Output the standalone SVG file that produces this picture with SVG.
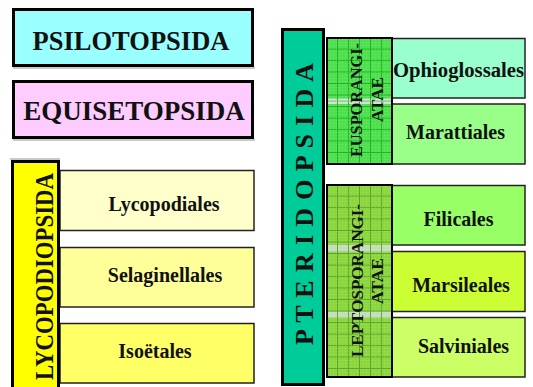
<svg xmlns="http://www.w3.org/2000/svg" width="533" height="387" viewBox="0 0 533 387">
<defs>
<pattern id="gridE" x="327" y="38" width="11" height="11.5" patternUnits="userSpaceOnUse">
<path d="M10.5 0V11.5M0 11H11" stroke="#1fb51f" stroke-width="1" fill="none"/>
</pattern>
<pattern id="gridL" x="327" y="185" width="11" height="11.5" patternUnits="userSpaceOnUse">
<path d="M10.5 0V11.5M0 11H11" stroke="#58a82c" stroke-width="1" fill="none"/>
</pattern>
<pattern id="dots" width="3" height="3" patternUnits="userSpaceOnUse">
<rect width="1" height="1" fill="#ffffff" fill-opacity="0.18"/>
</pattern>
</defs>
<style>
text{font-family:'Liberation Serif','DejaVu Serif',serif;font-weight:700;fill:#111;}
.lbl{font-size:20px;text-anchor:middle;}
.sub{font-size:16px;text-anchor:middle;}
.thick{stroke:#000;stroke-width:3;}
.thin{stroke:#222;stroke-width:1.5;}
.shadow{fill:#c8c8c8;}
</style>
<rect width="533" height="387" fill="#ffffff"/>

<g id="psilotopsida">
<rect class="shadow" x="13" y="67" width="242" height="2"/>
<rect class="thick" x="13.5" y="9.5" width="239" height="56" fill="#99FFFF"/>
<text x="131" y="50" font-size="26.5" text-anchor="middle" font-family="Liberation Serif, serif">PSILOTOPSIDA</text>
</g>

<g id="equisetopsida">
<rect class="shadow" x="13" y="139" width="242" height="2"/>
<rect class="thick" x="13.5" y="81.5" width="239" height="56" fill="#FFCCFF"/>
<text x="134" y="120" font-size="27" text-anchor="middle" font-family="Liberation Serif, serif">EQUISETOPSIDA</text>
</g>

<g id="lycopodiales">
<rect class="thin" x="60" y="170.5" width="194" height="60" fill="#FFFFCC"/>
<text class="lbl" x="164" y="211" font-family="Liberation Serif, serif">Lycopodiales</text>
</g>
<g id="selaginellales">
<rect class="thin" x="60" y="247.5" width="194" height="59.5" fill="#FFFF99"/>
<text class="lbl" x="165" y="282" font-family="Liberation Serif, serif">Selaginellales</text>
</g>
<g id="isoetales">
<rect class="thin" x="60" y="323.5" width="194" height="59.5" fill="#FFFF66"/>
<text class="lbl" x="155" y="358" font-family="Liberation Serif, serif">Isoëtales</text>
</g>

<g id="lycopodiopsida">
<rect class="shadow" x="10" y="158" width="50" height="2"/>
<rect class="thick" x="12.5" y="161.5" width="46" height="230" fill="#FFFF00"/>
<text transform="translate(53,276.5) rotate(-90)" font-size="26" text-anchor="middle" textLength="207" lengthAdjust="spacingAndGlyphs" font-family="Liberation Serif, serif">LYCOPODIOPSIDA</text>
</g>

<g id="ophioglossales">
<rect class="thin" x="340" y="38.5" width="185" height="59.5" fill="#99FFCC"/>
<text class="lbl" x="458.5" y="77" textLength="131" lengthAdjust="spacingAndGlyphs" font-family="Liberation Serif, serif">Ophioglossales</text>
</g>
<g id="marattiales">
<rect class="thin" x="340" y="104" width="185" height="60" fill="#99FF88"/>
<text class="lbl" x="455.5" y="139" font-family="Liberation Serif, serif">Marattiales</text>
</g>
<g id="filicales">
<rect class="thin" x="340" y="185.5" width="185" height="59.5" fill="#99FF66"/>
<text class="lbl" x="458.5" y="226" font-family="Liberation Serif, serif">Filicales</text>
</g>
<g id="marsileales">
<rect class="thin" x="340" y="251.5" width="185" height="60" fill="#CCFF33"/>
<text class="lbl" x="461" y="292" font-family="Liberation Serif, serif">Marsileales</text>
</g>
<g id="salviniales">
<rect class="thin" x="340" y="317.5" width="185" height="59.5" fill="#CCFF66"/>
<text class="lbl" x="463.5" y="353" font-family="Liberation Serif, serif">Salviniales</text>
</g>

<g id="eusporangiatae">
<rect x="327" y="38" width="65" height="126" fill="#4EE04E"/>
<rect x="327" y="98.5" width="65" height="5.5" fill="#c9e6c9"/>
<rect x="327" y="38" width="65" height="126" fill="url(#gridE)"/>
<rect x="327" y="38" width="65" height="126" fill="url(#dots)"/>
<rect x="327" y="100.5" width="65" height="1.2" fill="#8fbf8f"/>
<rect x="327" y="38" width="65" height="126" fill="none" stroke="#000" stroke-width="2"/>
<text class="sub" transform="translate(362,100) rotate(-90)" textLength="114" lengthAdjust="spacingAndGlyphs" font-family="Liberation Serif, serif">EUSPORANGI-</text>
<text class="sub" transform="translate(383,99.5) rotate(-90)" textLength="45" lengthAdjust="spacingAndGlyphs" font-family="Liberation Serif, serif">ATAE</text>
</g>

<g id="leptosporangiatae">
<rect x="327" y="185" width="65" height="192" fill="#8ED63E"/>
<rect x="327" y="245" width="65" height="6.5" fill="#c6dcc0"/>
<rect x="327" y="311.5" width="65" height="6" fill="#c6dcc0"/>
<rect x="327" y="185" width="65" height="192" fill="url(#gridL)"/>
<rect x="327" y="185" width="65" height="192" fill="url(#dots)"/>
<rect x="327" y="185" width="65" height="192" fill="none" stroke="#000" stroke-width="2"/>
<text class="sub" transform="translate(363,280.5) rotate(-90)" textLength="153" lengthAdjust="spacingAndGlyphs" font-family="Liberation Serif, serif">LEPTOSPORANGI-</text>
<text class="sub" transform="translate(383,281) rotate(-90)" textLength="46" lengthAdjust="spacingAndGlyphs" font-family="Liberation Serif, serif">ATAE</text>
</g>

<g id="pteridopsida">
<rect class="thick" x="282.5" y="29.5" width="41" height="355" fill="#00CC99"/>
<text transform="translate(313,204) rotate(-90)" font-size="26" text-anchor="middle" textLength="282" lengthAdjust="spacing" font-family="Liberation Serif, serif">P T E R I D O P S I D A</text>
</g>

<g id="connectors"></g>
</svg>
